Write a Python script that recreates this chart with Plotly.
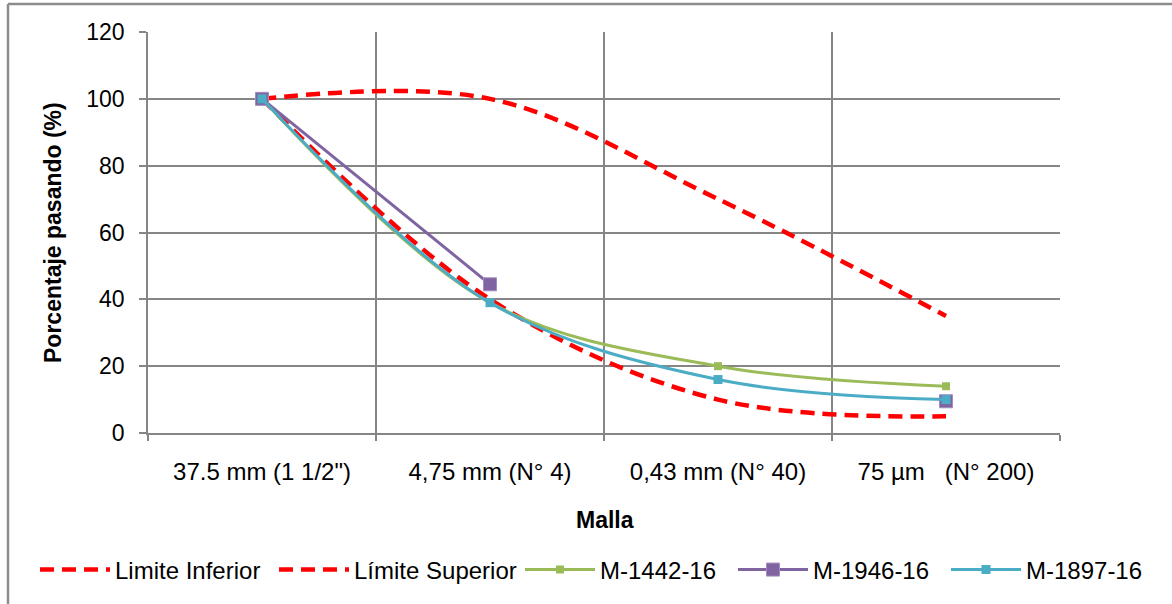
import plotly.graph_objects as go

# Sieve sizes (mesh) and percentage passing for each sample and limits
mallas = ["37.5 mm (1 1/2\")", "4,75 mm (N° 4)", "0,43 mm (N° 40)",
          "75 µm\u00a0\u00a0 (N° 200)"]
limite_inferior = [100, 40, 10, 5]
limite_superior = [100, 100, 70, 35]
m_1442_16 = [100, 39, 20, 14]
m_1946_16 = [100, 44.5, None, 9.5]
m_1897_16 = [100, 39, 16, 10]

FONT = "Arial, Liberation Sans, sans-serif"
GRID = "#868686"

fig = go.Figure()

fig.add_trace(go.Scatter(
    x=mallas, y=limite_inferior, name="Limite Inferior", mode="lines",
    line=dict(color="#FF0000", width=4.5, dash="14px,8px", shape="spline", smoothing=1.0),
    legend="legend", legendwidth=154,
))
fig.add_trace(go.Scatter(
    x=mallas, y=limite_superior, name="Límite Superior", mode="lines",
    line=dict(color="#FF0000", width=4.5, dash="14px,8px", shape="spline", smoothing=1.0),
    legend="legend", legendwidth=170,
))
fig.add_trace(go.Scatter(
    x=mallas, y=m_1442_16, name="M-1442-16", mode="lines+markers",
    line=dict(color="#9BBB59", width=3, shape="spline", smoothing=1.0),
    marker=dict(symbol="square", size=8, color="#9BBB59"),
    legend="legend2", legendwidth=128,
))
fig.add_trace(go.Scatter(
    x=mallas, y=m_1946_16, name="M-1946-16", mode="lines+markers",
    line=dict(color="#8064A2", width=3, shape="spline", smoothing=1.0),
    marker=dict(symbol="square", size=13, color="#8064A2",
                line=dict(color="#A28CC0", width=1)),
    connectgaps=False,
    legend="legend2", legendwidth=128,
))
fig.add_trace(go.Scatter(
    x=mallas, y=m_1897_16, name="M-1897-16", mode="lines+markers",
    line=dict(color="#4BACC6", width=3, shape="spline", smoothing=1.0),
    marker=dict(symbol="square", size=9, color="#4BACC6"),
    legend="legend2", legendwidth=124,
))

L, R, T, B = 148, 112, 32, 171
PW, PH = 1172 - L - R, 604 - T - B

def px_x(p):
    return (p - L) / PW

def px_y(p):
    return (604 - B - p) / PH

legend_style = dict(
    orientation="h", yanchor="middle", xanchor="left",
    font=dict(family=FONT, size=24, color="black"),
    itemwidth=70, tracegroupgap=0, bgcolor="rgba(0,0,0,0)",
)

fig.update_layout(
    width=1172, height=604,
    margin=dict(l=L, r=R, t=T, b=B, autoexpand=False),
    paper_bgcolor="white", plot_bgcolor="white",
    font=dict(family=FONT, size=24, color="black"),
    showlegend=True,
    legend=dict(x=px_x(35), y=px_y(570), **legend_style),
    legend2=dict(x=px_x(520), y=px_y(570), **legend_style),
    xaxis=dict(
        type="category", range=[-0.5, 3.5], tickson="boundaries",
        showgrid=True, gridcolor=GRID, gridwidth=1.5,
        showline=True, linecolor=GRID, linewidth=1.5,
        ticks="outside", ticklen=6, tickcolor=GRID, tickwidth=1.5,
        ticklabelstandoff=16,
        tickfont=dict(family=FONT, size=24, color="black"),
        fixedrange=True,
    ),
    yaxis=dict(
        range=[0, 120], dtick=20,
        showgrid=True, gridcolor=GRID, gridwidth=1.5,
        showline=True, linecolor=GRID, linewidth=1.5,
        ticks="outside", ticklen=7, tickcolor=GRID, tickwidth=1.5,
        ticklabelstandoff=10, zeroline=False,
        tickfont=dict(family=FONT, size=23, color="black"),
        fixedrange=True,
    ),
    annotations=[
        dict(text="<b>Malla</b>", xref="paper", yref="paper",
             x=px_x(605), y=px_y(520), xanchor="center", yanchor="middle",
             showarrow=False, font=dict(family=FONT, size=23, color="black")),
        dict(text="<b>Porcentaje pasando (%)</b>", xref="paper", yref="paper",
             x=px_x(53), y=px_y(233), xanchor="center", yanchor="middle",
             textangle=-90, showarrow=False,
             font=dict(family=FONT, size=23, color="black")),
    ],
    shapes=[
        # chart-area frame (left and top edges)
        dict(type="line", xref="paper", yref="paper",
             x0=px_x(8), x1=px_x(8), y0=px_y(4), y1=px_y(610),
             line=dict(color="#8C8C8C", width=2.5)),
        dict(type="line", xref="paper", yref="paper",
             x0=px_x(8), x1=px_x(1180), y0=px_y(4), y1=px_y(4),
             line=dict(color="#8C8C8C", width=2.5)),
    ],
)

fig.write_html("out.html")
